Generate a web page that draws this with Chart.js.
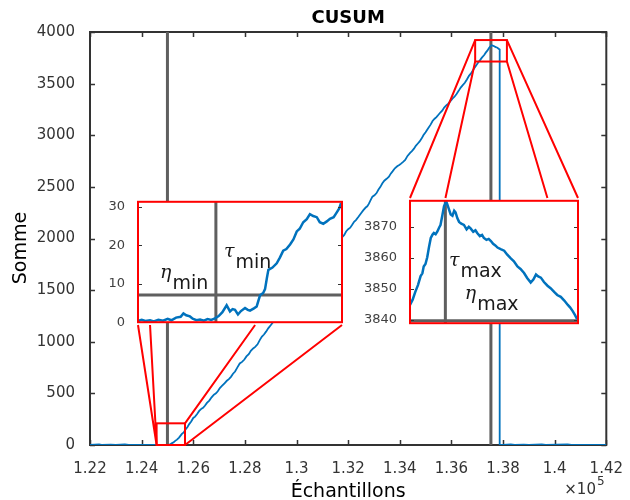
<!DOCTYPE html>
<html>
<head>
<meta charset="utf-8">
<title>CUSUM</title>
<script src="https://cdn.jsdelivr.net/npm/chart.js@4.4.1/dist/chart.umd.min.js"></script>
<style>
  body { margin: 0; background: #fff; }
  #wrap { position: relative; width: 630px; height: 500px; }
  #wrap canvas { position: absolute; }
</style>
</head>
<body>
<div id="wrap">
  <canvas id="chart_main" width="630" height="500" style="left:0;top:0"></canvas>
  <canvas id="chart_min"></canvas>
  <canvas id="chart_max"></canvas>
</div>
<script>
// Cumulative sum over the samples (x in units of 1e5)
const sampleX = [
    1.2200, 1.2235, 1.2245, 1.2280, 1.2300, 1.2335, 1.2350, 1.2420,
    1.2500, 1.2506, 1.2510, 1.2514, 1.2518, 1.2524, 1.2530, 1.2537,
    1.2545, 1.2550, 1.2556, 1.2563, 1.2570, 1.2577, 1.2585, 1.2592,
    1.2600, 1.2607, 1.2615, 1.2623, 1.2632, 1.2638, 1.2645, 1.2653,
    1.2662, 1.2671, 1.2680, 1.2688, 1.2695, 1.2703, 1.2712, 1.2721,
    1.2730, 1.2738, 1.2746, 1.2754, 1.2762, 1.2771, 1.2780, 1.2789,
    1.2798, 1.2806, 1.2815, 1.2823, 1.2832, 1.2840, 1.2849, 1.2858,
    1.2866, 1.2874, 1.2882, 1.2891, 1.2900, 1.2920, 1.2940, 1.2960,
    1.2980, 1.3000, 1.3020, 1.3040, 1.3060, 1.3080, 1.3100, 1.3120,
    1.3140, 1.3167, 1.3176, 1.3185, 1.3192, 1.3200, 1.3208, 1.3215,
    1.3223, 1.3231, 1.3240, 1.3250, 1.3259, 1.3268, 1.3274, 1.3280,
    1.3287, 1.3294, 1.3302, 1.3310, 1.3317, 1.3325, 1.3332, 1.3340,
    1.3349, 1.3358, 1.3365, 1.3372, 1.3381, 1.3390, 1.3398, 1.3405,
    1.3413, 1.3421, 1.3430, 1.3440, 1.3447, 1.3455, 1.3462, 1.3470,
    1.3477, 1.3485, 1.3492, 1.3500, 1.3510, 1.3520, 1.3527, 1.3535,
    1.3542, 1.3549, 1.3557, 1.3565, 1.3572, 1.3580, 1.3588, 1.3596,
    1.3604, 1.3612, 1.3620, 1.3628, 1.3636, 1.3644, 1.3652, 1.3660,
    1.3668, 1.3676, 1.3683, 1.3690, 1.3697, 1.3705, 1.3711, 1.3718,
    1.3727, 1.3733, 1.3740, 1.3745, 1.3750, 1.3756, 1.3762, 1.3766,
    1.3770, 1.3774, 1.3778, 1.3784, 1.3787, 1.3787, 1.3800, 1.3830,
    1.3845, 1.3880, 1.3900, 1.3950, 1.3965, 1.4050, 1.4065, 1.4200
];
const cusum = [
    0, 6, 0, 4, 0, 5, 0, 0,
    0, 2, 5, 12, 18, 26, 40, 52,
    72, 88, 108, 122, 150, 172, 205, 228,
    262, 275, 300, 330, 352, 360, 380, 408,
    430, 462, 488, 500, 520, 552, 575, 598,
    622, 638, 660, 690, 712, 752, 790, 805,
    828, 858, 880, 912, 935, 950, 975, 1018,
    1050, 1070, 1098, 1132, 1160, 1225, 1290, 1348,
    1420, 1478, 1545, 1605, 1672, 1730, 1795, 1850,
    1905, 1985, 2012, 2035, 2068, 2090, 2105, 2130,
    2162, 2180, 2210, 2245, 2275, 2300, 2312, 2335,
    2372, 2405, 2418, 2440, 2472, 2500, 2532, 2560,
    2578, 2598, 2628, 2650, 2680, 2700, 2712, 2725,
    2742, 2760, 2800, 2830, 2846, 2870, 2898, 2920,
    2940, 2970, 3002, 3030, 3068, 3105, 3138, 3160,
    3175, 3196, 3220, 3240, 3268, 3290, 3306, 3330,
    3355, 3373, 3400, 3430, 3462, 3485, 3508, 3540,
    3575, 3599, 3628, 3655, 3680, 3710, 3728, 3752,
    3777, 3800, 3822, 3842, 3858, 3872, 3866, 3862,
    3855, 3852, 3848, 3836, 3830, 0, 0, 5,
    0, 4, 0, 6, 0, 5, 0, 0
];

// change points and thresholds
const tauMin = 1.2500;
const tauMax = 1.3753;
const etaMin = 7.1;
const etaMax = 3839.7;

// main axes
const xRange = [1.22, 1.42];
const yRange = [0, 4000];

// zoom windows marked on the main axes
const minWindowX = [1.2458, 1.2568];
const minWindowY = [0, 210];
const maxWindowX = [1.3692, 1.3815];
const maxWindowY = [3714, 3922];

// start of the signal (inset around tau_min)
const minInsetY = [0, 31.3];
const minZoomX = [
    1.24583, 1.24600, 1.24620, 1.24645, 1.24665, 1.24690, 1.24715, 1.24740,
    1.24760, 1.24785, 1.24810, 1.24825, 1.24840, 1.24860, 1.24875, 1.24895,
    1.24915, 1.24935, 1.24955, 1.24975, 1.24995, 1.25015, 1.25035, 1.25058,
    1.25076, 1.25090, 1.25103, 1.25119, 1.25135, 1.25157, 1.25172, 1.25184,
    1.25205, 1.25220, 1.25238, 1.25255, 1.25265, 1.25275, 1.25283, 1.25305,
    1.25328, 1.25345, 1.25363, 1.25380, 1.25400, 1.25418, 1.25436, 1.25452,
    1.25471, 1.25490, 1.25507, 1.25525, 1.25544, 1.25560, 1.25579, 1.25598,
    1.25615, 1.25635, 1.25651, 1.25665, 1.25675
];
const minZoomY = [
    0.4, 0.6, 0.3, 0.5, 0.2, 0.6, 0.4, 0.9,
    0.5, 1.2, 1.4, 2.3, 1.8, 1.5, 0.9, 0.5,
    0.7, 0.4, 0.8, 0.6, 1.0, 1.6, 2.6, 4.4,
    2.8, 3.4, 3.2, 2.0, 2.9, 3.7, 3.2, 3.0,
    3.6, 4.1, 7.0, 7.6, 8.6, 11.5, 13.6, 14.2,
    15.3, 16.8, 18.6, 19.0, 20.2, 21.5, 23.6, 24.3,
    26.0, 26.8, 28.1, 27.6, 27.3, 26.0, 25.6, 26.2,
    26.9, 27.3, 28.5, 29.6, 31.0
];

// top of the ramp (inset around tau_max)
const maxInsetX = [1.3745, 1.3783];
const maxInsetY = [3838.9, 3878.4];
const maxZoomX = [
    1.37450, 1.37456, 1.37462, 1.37468, 1.37474, 1.37478, 1.37481, 1.37485,
    1.37489, 1.37493, 1.37497, 1.37501, 1.37504, 1.37508, 1.37512, 1.37516,
    1.37519, 1.37523, 1.37527, 1.37532, 1.37535, 1.37538, 1.37542, 1.37546,
    1.37550, 1.37553, 1.37557, 1.37561, 1.37566, 1.37572, 1.37578, 1.37583,
    1.37587, 1.37593, 1.37598, 1.37602, 1.37608, 1.37613, 1.37617, 1.37623,
    1.37628, 1.37633, 1.37638, 1.37643, 1.37648, 1.37655, 1.37663, 1.37670,
    1.37678, 1.37685, 1.37693, 1.37700, 1.37708, 1.37715, 1.37723, 1.37729,
    1.37735, 1.37740, 1.37746, 1.37753, 1.37761, 1.37768, 1.37776, 1.37783,
    1.37791, 1.37799, 1.37807, 1.37812, 1.37818, 1.37823, 1.37828
];
const maxZoomY = [
    3844.8, 3846.5, 3849.0, 3851.2, 3854.1, 3855.0, 3857.2, 3858.0,
    3860.2, 3863.5, 3866.4, 3867.5, 3868.0, 3867.6, 3868.5, 3869.8,
    3870.6, 3873.6, 3876.7, 3878.2, 3877.0, 3875.7, 3874.0, 3873.6,
    3875.2, 3874.7, 3872.8, 3871.6, 3871.0, 3870.6, 3869.2, 3870.0,
    3869.5, 3868.4, 3868.9, 3868.0, 3867.0, 3867.4, 3866.4, 3865.8,
    3866.1, 3865.4, 3864.5, 3864.0, 3863.3, 3862.8, 3862.3, 3861.0,
    3859.8, 3858.9, 3857.2, 3856.4, 3855.1, 3853.5, 3852.0, 3853.0,
    3854.6, 3854.0, 3853.6, 3852.2, 3851.0, 3850.2, 3849.0, 3848.0,
    3847.4, 3846.2, 3844.8, 3844.0, 3842.8, 3841.6, 3840.2
];

// styling
const BLUE = '#0072BD';
const GRAY = '#5f5f5f';
const RED = '#ff0000';
const AXIS = '#333333';
const FONT = 'DejaVu Sans';

// where the insets sit on the page
const minBox = {left: 138, top: 199, right: 342, bottom: 325};
const maxBox = {left: 410, top: 198, right: 578, bottom: 326};

function toPoints(xs, ys) {
    return xs.map((x, i) => ({x: x, y: ys[i]}));
}

// plain numbers, no thousands separator
const plainTick = v => String(+v.toFixed(2));

// box around the plot area with inward ticks, drawn under the data
const frameTicks = {
    id: 'frameTicks',
    beforeDatasetsDraw(chart) {
        const {ctx, chartArea: a, scales: {x, y}} = chart;
        ctx.save();
        ctx.strokeStyle = AXIS;
        ctx.lineWidth = 1.5;
        ctx.beginPath();
        x.ticks.forEach(t => {
            const px = Math.round(x.getPixelForValue(t.value)) + 0.5;
            ctx.moveTo(px, a.bottom); ctx.lineTo(px, a.bottom - 5);
            ctx.moveTo(px, a.top); ctx.lineTo(px, a.top + 5);
        });
        y.ticks.forEach(t => {
            const py = Math.round(y.getPixelForValue(t.value)) + 0.5;
            ctx.moveTo(a.left, py); ctx.lineTo(a.left + 5, py);
            ctx.moveTo(a.right, py); ctx.lineTo(a.right - 5, py);
        });
        ctx.stroke();
        ctx.lineWidth = 2;
        ctx.strokeRect(a.left, a.top, a.right - a.left, a.bottom - a.top);
        ctx.restore();
    }
};

// red zoom windows and the lines running to their insets
const zoomLinks = {
    id: 'zoomLinks',
    afterDatasetsDraw(chart, args, opts) {
        const {ctx, scales: {x, y}} = chart;
        ctx.save();
        ctx.strokeStyle = RED;
        ctx.lineWidth = 2;
        opts.zooms.forEach(z => {
            const l = x.getPixelForValue(z.xs[0]), r = x.getPixelForValue(z.xs[1]);
            const b = y.getPixelForValue(z.ys[0]), t = y.getPixelForValue(z.ys[1]);
            ctx.strokeRect(l, t, r - l, b - t);
            const corner = {lb: [l, b], lt: [l, t], rb: [r, b], rt: [r, t]};
            const edgeY = z.edge === 'top' ? z.box.top : z.box.bottom;
            ctx.beginPath();
            z.links.forEach(([c, f]) => {
                ctx.moveTo(corner[c][0], corner[c][1]);
                ctx.lineTo(z.box.left + f * (z.box.right - z.box.left), edgeY);
            });
            ctx.stroke();
        });
        ctx.restore();
    }
};

// y label and the x exponent
const axisNotes = {
    id: 'axisNotes',
    afterDraw(chart) {
        const {ctx, chartArea: a} = chart;
        ctx.save();
        ctx.fillStyle = '#000';
        ctx.font = '19px "' + FONT + '"';
        ctx.textAlign = 'center';
        ctx.textBaseline = 'middle';
        ctx.translate(21, 248);
        ctx.rotate(-Math.PI / 2);
        ctx.fillText('Somme', 0, 0);
        ctx.restore();

        ctx.save();
        ctx.fillStyle = AXIS;
        ctx.textAlign = 'left';
        ctx.textBaseline = 'alphabetic';
        ctx.font = '15px "' + FONT + '"';
        ctx.fillText('\u00d710', a.right - 42, 494);
        const w = ctx.measureText('\u00d710').width;
        ctx.font = '12px "' + FONT + '"';
        ctx.fillText('5', a.right - 42 + w + 1, 485);
        ctx.restore();
    }
};

// white panel, red border and inward ticks of an inset
const insetFrame = {
    id: 'insetFrame',
    beforeDatasetsDraw(chart) {
        const {ctx, chartArea: a} = chart;
        ctx.save();
        ctx.fillStyle = '#fff';
        ctx.fillRect(a.left, a.top, a.right - a.left, a.bottom - a.top);
        ctx.restore();
    },
    afterDatasetsDraw(chart) {
        const {ctx, chartArea: a, scales: {y}} = chart;
        ctx.save();
        ctx.strokeStyle = AXIS;
        ctx.lineWidth = 1;
        ctx.beginPath();
        y.ticks.forEach(t => {
            const py = Math.round(y.getPixelForValue(t.value)) + 0.5;
            ctx.moveTo(a.left, py); ctx.lineTo(a.left + 4, py);
            ctx.moveTo(a.right, py); ctx.lineTo(a.right - 4, py);
        });
        ctx.stroke();
        ctx.strokeStyle = RED;
        ctx.lineWidth = 2;
        ctx.strokeRect(a.left, a.top, a.right - a.left, a.bottom - a.top);
        ctx.restore();
    }
};

// tau / eta names with subscripts
const greekLabels = {
    id: 'greekLabels',
    afterDatasetsDraw(chart, args, opts) {
        const {ctx, scales: {x, y}} = chart;
        ctx.save();
        ctx.fillStyle = '#1a1a1a';
        ctx.textAlign = 'left';
        ctx.textBaseline = 'alphabetic';
        opts.items.forEach(it => {
            const px = x.getPixelForValue(it.x), py = y.getPixelForValue(it.y);
            ctx.font = 'italic 19px "DejaVu Serif"';
            ctx.fillText(it.sym, px, py);
            const w = ctx.measureText(it.sym).width;
            ctx.font = '19px "' + FONT + '"';
            ctx.fillText(it.sub, px + w + 1, py + 11);
        });
        ctx.restore();
    }
};

let chartMain = new Chart(
    document.getElementById('chart_main'),
    {
        type: 'line',
        data: {
            datasets: [
                {
                    label: 'CUSUM',
                    data: toPoints(sampleX, cusum),
                    borderColor: BLUE,
                    borderWidth: 1.8,
                    order: 0,
                },
                {
                    label: 'tau_min',
                    data: [{x: tauMin, y: yRange[0]}, {x: tauMin, y: yRange[1]}],
                    borderColor: GRAY,
                    borderWidth: 3,
                    order: 1,
                },
                {
                    label: 'tau_max',
                    data: [{x: tauMax, y: yRange[0]}, {x: tauMax, y: yRange[1]}],
                    borderColor: GRAY,
                    borderWidth: 3,
                    order: 1,
                },
            ]
        },
        options: {
            responsive: false,
            animation: false,
            devicePixelRatio: 1,
            elements: { point: { radius: 0 }, line: { tension: 0 } },
            layout: { padding: { left: 0, right: 16, top: 0, bottom: 0 } },
            scales: {
                x: {
                    type: 'linear',
                    min: xRange[0],
                    max: xRange[1],
                    afterFit: s => { s.height = 55; },
                    grid: { display: false },
                    border: { display: false },
                    ticks: {
                        stepSize: 0.02,
                        autoSkip: false,
                        maxRotation: 0,
                        padding: 7,
                        color: AXIS,
                        font: { family: FONT, size: 15 },
                        callback: plainTick,
                    },
                    title: {
                        display: true,
                        text: 'Échantillons',
                        color: '#000',
                        font: { family: FONT, size: 19, lineHeight: 0.8 },
                        padding: { top: 0, bottom: 0 },
                    },
                },
                y: {
                    min: yRange[0],
                    max: yRange[1],
                    afterFit: s => { s.width = 90; },
                    grid: { display: false },
                    border: { display: false },
                    ticks: {
                        stepSize: 500,
                        padding: 7,
                        color: AXIS,
                        font: { family: FONT, size: 15 },
                        callback: plainTick,
                    },
                },
            },
            plugins: {
                title: {
                    display: true,
                    text: 'CUSUM',
                    fullSize: false,
                    color: '#000',
                    font: { family: FONT, size: 18, weight: 'bold', lineHeight: 1.2 },
                    padding: { top: 8, bottom: 2.4 },
                },
                legend: { display: false },
                tooltip: { enabled: false },
                zoomLinks: {
                    zooms: [
                        {
                            xs: minWindowX, ys: minWindowY, box: minBox, edge: 'bottom',
                            links: [['lb', 0], ['lb', 0.059], ['rt', 0.574], ['rb', 1]],
                        },
                        {
                            xs: maxWindowX, ys: maxWindowY, box: maxBox, edge: 'top',
                            links: [['lt', 0], ['lb', 0.211], ['rb', 0.818], ['rt', 1]],
                        },
                    ],
                },
            },
        },
        plugins: [frameTicks, zoomLinks, axisNotes],
    }
);

function makeInset(id, box, cfg) {
    const canvas = document.getElementById(id);
    canvas.width = box.right - box.left + 60;
    canvas.height = box.bottom - box.top + 20;
    canvas.style.left = (box.left - 50) + 'px';
    canvas.style.top = (box.top - 10) + 'px';
    return new Chart(canvas, {
        type: 'line',
        data: {
            datasets: [
                {
                    data: toPoints(cfg.xs, cfg.ys),
                    borderColor: BLUE,
                    borderWidth: 2.5,
                    order: 0,
                },
                {
                    data: [{x: cfg.tau, y: cfg.yRange[0]}, {x: cfg.tau, y: cfg.yRange[1]}],
                    borderColor: GRAY,
                    borderWidth: 3,
                    order: 1,
                },
                {
                    data: [{x: cfg.xRange[0], y: cfg.eta}, {x: cfg.xRange[1], y: cfg.eta}],
                    borderColor: GRAY,
                    borderWidth: 3,
                    order: 1,
                },
            ]
        },
        options: {
            responsive: false,
            animation: false,
            devicePixelRatio: 1,
            elements: { point: { radius: 0 }, line: { tension: 0 } },
            layout: { padding: { left: 0, top: 10, right: 10, bottom: 10 } },
            scales: {
                x: { type: 'linear', display: false, min: cfg.xRange[0], max: cfg.xRange[1] },
                y: {
                    min: cfg.yRange[0],
                    max: cfg.yRange[1],
                    afterFit: s => { s.width = 50; },
                    grid: { display: false },
                    border: { display: false },
                    ticks: {
                        stepSize: 10,
                        includeBounds: false,
                        padding: 5,
                        color: '#404040',
                        font: { family: FONT, size: 13 },
                        callback: plainTick,
                    },
                },
            },
            plugins: {
                legend: { display: false },
                tooltip: { enabled: false },
                greekLabels: { items: cfg.labels },
            },
        },
        plugins: [insetFrame, greekLabels],
    });
}

let chartMin = makeInset('chart_min', minBox, {
    xs: minZoomX, ys: minZoomY,
    xRange: minWindowX, yRange: minInsetY,
    tau: tauMin, eta: etaMin,
    labels: [
        { sym: 'η', sub: 'min', x: 1.24699, y: 11.4 },
        { sym: 'τ', sub: 'min', x: 1.25044, y: 16.9 },
    ],
});

let chartMax = makeInset('chart_max', maxBox, {
    xs: maxZoomX, ys: maxZoomY,
    xRange: maxInsetX, yRange: maxInsetY,
    tau: tauMax, eta: etaMax,
    labels: [
        { sym: 'τ', sub: 'max', x: 1.37538, y: 3857.3 },
        { sym: 'η', sub: 'max', x: 1.37574, y: 3846.8 },
    ],
});
</script>
</body>
</html>
